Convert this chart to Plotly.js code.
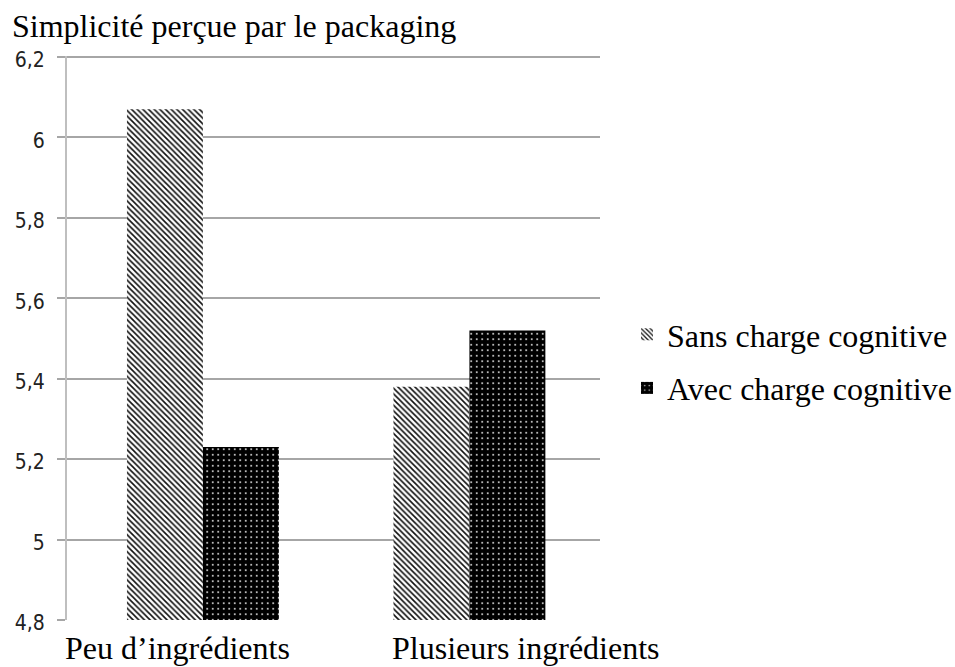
<!DOCTYPE html>
<html>
<head>
<meta charset="utf-8">
<script src="https://cdn.plot.ly/plotly-3.0.1.min.js"></script>
<style>html,body{margin:0;padding:0;background:#fff;}#chart{width:955px;height:667px;}</style>
</head>
<body>
<div id="chart"></div>
<script>
const categories = ["Peu d\u2019ingrédients", "Plusieurs ingrédients"];
const seriesNames = ["Sans charge cognitive", "Avec charge cognitive"];
const sansValues = [6.07, 5.38];
const avecValues = [5.23, 5.52];
const yTicks = [4.8, 5, 5.2, 5.4, 5.6, 5.8, 6, 6.2];
const yTickLabels = ["4,8", "5", "5,2", "5,4", "5,6", "5,8", "6", "6,2"];
const labelShifts = [-25, 57];

const serif = "Liberation Serif, Times New Roman, serif";
const sans = "DejaVu Sans Condensed, Liberation Sans Narrow, Arial Narrow, sans-serif";

const traces = [
  {
    type: "bar", name: seriesNames[0], x: categories, y: sansValues, legendgroup: "a",
    marker: {color: "#ffffff", line: {width: 0},
      pattern: {shape: "\\", fgcolor: "#111111", bgcolor: "#ffffff", size: 4, solidity: 0.4}},
    hoverinfo: "skip"
  },
  {
    type: "bar", name: seriesNames[1], x: categories, y: avecValues, legendgroup: "b",
    marker: {color: "#000000", line: {width: 0},
      pattern: {shape: ".", fgcolor: "#ffffff", bgcolor: "#000000", size: 5.5, solidity: 0.08}},
    hoverinfo: "skip"
  }
];

const annotations = categories.map((c, i) => ({
  x: c, xref: "x", y: 0, yref: "paper", yanchor: "top", xanchor: "center",
  yshift: -8, xshift: labelShifts[i], showarrow: false, text: c,
  font: {family: serif, size: 32, color: "#000"}
}));

const layout = {
  width: 955, height: 667,
  margin: {l: 67, r: 355, t: 56, b: 47},
  paper_bgcolor: "#fff", plot_bgcolor: "#fff",
  title: {text: "Simplicité perçue par le packaging", x: 12/955, xref: "container", xanchor: "left",
    y: 1 - 26/667, yref: "container", yanchor: "middle",
    font: {family: serif, size: 32, color: "#000"}},
  barmode: "group", bargap: 0.43, bargroupgap: 0,
  xaxis: {range: [-0.51, 1.49], showticklabels: false, showgrid: false, zeroline: false, showline: false, ticks: ""},
  yaxis: {range: [4.8, 6.2025], tickvals: yTicks, ticktext: yTickLabels,
    showgrid: true, gridcolor: "#a6a6a6", gridwidth: 2, zeroline: false,
    showline: true, linecolor: "#bfbfbf", linewidth: 2,
    ticks: "outside", ticklen: 8, tickcolor: "#a6a6a6", tickwidth: 2,
    ticklabelstandoff: 8, ticklabelshift: 3,
    tickfont: {family: sans, size: 21, color: "#222"}},
  showlegend: true,
  legend: {xref: "container", yref: "container", x: 627 / 955, xanchor: "left", y: 1 - 307 / 667, yanchor: "top",
    traceorder: "grouped", tracegroupgap: 9,
    font: {family: serif, size: 32, color: "#000"}, bgcolor: "rgba(0,0,0,0)"},
  annotations: annotations
};

Plotly.newPlot("chart", traces, layout, {displayModeBar: false, staticPlot: true});
</script>
</body>
</html>
